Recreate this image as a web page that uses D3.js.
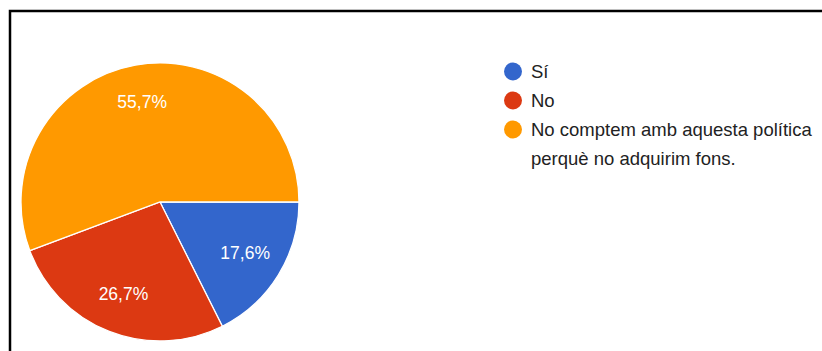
<!DOCTYPE html>
<html>
<head>
<meta charset="utf-8">
<script src="https://cdn.jsdelivr.net/npm/d3@7"></script>
<style>
  html, body { margin: 0; padding: 0; background: #fff; }
  svg { display: block; }
</style>
</head>
<body>
<svg id="chart" width="822" height="351"></svg>
<script>
const categories = ["Sí", "No", "No comptem amb aquesta política perquè no adquirim fons."];
const legendLines = [["Sí"], ["No"], ["No comptem amb aquesta política", "perquè no adquirim fons."]];
const values = [17.6, 26.7, 55.7];
const valueLabels = ["17,6%", "26,7%", "55,7%"];
const colors = ["#3366cc", "#dc3912", "#ff9900"];

const svg = d3.select("#chart");
const font = "Arial, 'Liberation Sans', sans-serif";

// frame
svg.append("path")
  .attr("d", "M10,351 L10,11 L822,11")
  .attr("fill", "none")
  .attr("stroke", "#000")
  .attr("stroke-width", 2.5);

const cx = 160, cy = 202, r = 139;
const pie = d3.pie().sort(null).value(d => d)
  .startAngle(Math.PI / 2).endAngle(Math.PI / 2 + 2 * Math.PI);
const arcs = pie(values);
const arc = d3.arc().innerRadius(0).outerRadius(r);
const labelArc = d3.arc().innerRadius(r * 0.72).outerRadius(r * 0.72);

const g = svg.append("g").attr("transform", `translate(${cx},${cy})`);
g.selectAll("path.slice").data(arcs).join("path")
  .attr("class", "slice")
  .attr("d", arc)
  .attr("fill", (d, i) => colors[i])
  .attr("stroke", "#fff")
  .attr("stroke-width", 1.3);

g.selectAll("text.lbl").data(arcs).join("text")
  .attr("class", "lbl")
  .attr("transform", d => `translate(${labelArc.centroid(d)})`)
  .attr("text-anchor", "middle")
  .attr("dy", "0.25em")
  .attr("fill", "#fff")
  .attr("font-family", font)
  .attr("font-size", 17.5)
  .text((d, i) => valueLabels[i]);

// legend
const legendY = d3.scalePoint().domain(d3.range(categories.length)).range([71.5, 129.5]);
const lg = svg.append("g");
categories.forEach((c, i) => {
  const y = legendY(i);
  lg.append("circle").attr("cx", 513).attr("cy", y).attr("r", 9).attr("fill", colors[i]);
  const t = lg.append("text")
    .attr("x", 531).attr("y", y)
    .attr("fill", "#222")
    .attr("font-family", font)
    .attr("font-size", 18.5);
  legendLines[i].forEach((line, j) => {
    t.append("tspan").attr("x", 531).attr("dy", j === 0 ? "0.36em" : 29).text(line);
  });
});
</script>
</body>
</html>
